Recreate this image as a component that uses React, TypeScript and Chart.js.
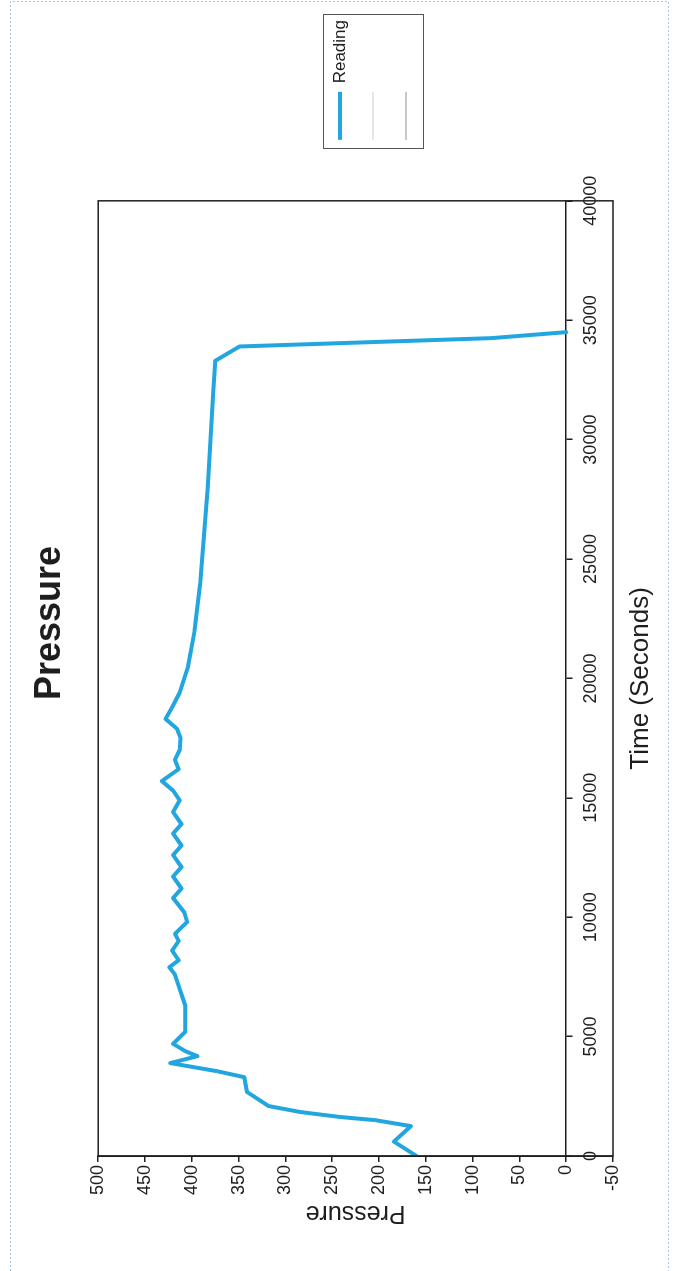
import React, { useEffect, useRef } from 'react';
import { Chart, registerables } from 'chart.js';

Chart.register(...registerables);

// ---- data ----
const timeSeconds = [
  0, 600, 1250, 1500, 1630, 1840, 2090, 2680, 3300, 3550, 3890, 4180, 4390, 4700,
  5200, 6300, 7000, 7600, 7900, 8200, 8600, 9000, 9300, 9800, 10200, 10800, 11200,
  11700, 12100, 12600, 13000, 13500, 13900, 14400, 14900, 15300, 15700, 16200, 16600,
  17000, 17500, 17900, 18300, 18800, 19400, 20500, 22000, 24000, 26000, 28000, 30000,
  32000, 33300, 33900, 34250, 34500,
];
const pressureReading = [
  160, 184, 166, 204, 241, 284, 318, 341, 344, 373, 423, 394, 407, 420,
  407, 407, 413, 418, 424, 414, 421, 414, 418, 405, 408, 420, 411,
  420, 411, 420, 411, 420, 411, 420, 413, 420, 432, 414, 418,
  413, 412, 416, 428, 421, 413, 404, 397, 391, 387, 383, 380,
  377, 375, 349, 80, 0,
];
const timeTicks = [0, 5000, 10000, 15000, 20000, 25000, 30000, 35000, 40000];
const pressureTicks = [-50, 0, 50, 100, 150, 200, 250, 300, 350, 400, 450, 500];
const seriesLabels = ['Reading', '', ''];
const seriesColors = ['#22a6e0', '#cfcfcf', '#8f8f8f'];
const seriesWidths = [4, 1, 1];
const chartTitle = 'Pressure';
const xAxisTitle = 'Time (Seconds)';
const yAxisTitle = 'Pressure';

// ---- drawing setup ----
const W = 1271;
const H = 677;
const FONT = "'Liberation Sans', Arial, Helvetica, sans-serif";
const INK = '#1e1e1e';

const framePlugin = {
  id: 'frame',
  beforeDraw(chart: any) {
    const { ctx } = chart;
    ctx.save();
    ctx.fillStyle = '#ffffff';
    ctx.fillRect(0, 0, chart.width, chart.height);
    ctx.strokeStyle = '#a9c4db';
    ctx.lineWidth = 1;
    ctx.setLineDash([2, 2]);
    ctx.beginPath();
    ctx.moveTo(0, 10.5);
    ctx.lineTo(W - 1.5, 10.5);
    ctx.lineTo(W - 1.5, 668.5);
    ctx.lineTo(0, 668.5);
    ctx.stroke();
    ctx.restore();
  },
  afterDraw(chart: any) {
    const { ctx, chartArea: a } = chart;
    ctx.save();
    ctx.strokeStyle = INK;
    ctx.lineWidth = 1.5;
    ctx.strokeRect(a.left, a.top, a.right - a.left, a.bottom - a.top);
    const lg = chart.legend;
    if (lg && lg.legendHitBoxes && lg.legendHitBoxes.length) {
      const hb = lg.legendHitBoxes;
      const first = hb[0];
      const last = hb[hb.length - 1];
      const left = Math.round(first.left - 9) + 0.5;
      const top = Math.round(first.top - 8.5) + 0.5;
      const bottom = Math.round(last.top + last.height + 8.5) + 0.5;
      ctx.strokeStyle = '#555555';
      ctx.lineWidth = 1;
      ctx.strokeRect(left, top, 134, bottom - top);
    }
    ctx.restore();
  },
};

export default function App() {
  const ref = useRef<HTMLCanvasElement>(null);

  useEffect(() => {
    document.body.style.overflow = 'hidden';
    const datasets = seriesLabels.map((label, i) => ({
      label,
      data: i === 0 ? timeSeconds.map((t, k) => ({ x: t, y: pressureReading[k] })) : [],
      borderColor: seriesColors[i],
      backgroundColor: seriesColors[i],
      borderWidth: seriesWidths[i],
      borderCapStyle: 'round' as const,
      borderJoinStyle: 'round' as const,
      pointRadius: 0,
      tension: 0,
    }));

    const chart = new Chart(ref.current as HTMLCanvasElement, {
      type: 'line',
      data: { datasets },
      plugins: [framePlugin],
      options: {
        responsive: false,
        animation: false,
        events: [],
        layout: { padding: { top: 10, left: 35, right: 10, bottom: 64 } },
        plugins: {
          title: {
            display: true,
            text: chartTitle,
            color: INK,
            font: { family: FONT, size: 36, weight: 'bold' },
            padding: { top: 18, bottom: 27 },
          },
          legend: {
            position: 'right',
            fullSize: false,
            align: 'center',
            title: { display: true, text: '', font: { family: FONT, size: 29 }, padding: 0 },
            labels: {
              usePointStyle: true,
              pointStyle: 'line',
              pointStyleWidth: 48,
              padding: 16,
              color: INK,
              font: { family: FONT, size: 17 },
            },
          },
          tooltip: { enabled: false },
        },
        scales: {
          x: {
            type: 'linear',
            min: 0,
            max: 40000,
            position: { y: 0 } as any,
            afterBuildTicks: (s: any) => {
              s.ticks = timeTicks.map((v) => ({ value: v }));
            },
            ticks: {
              color: INK,
              font: { family: FONT, size: 18 },
              padding: 8,
              maxRotation: 0,
              autoSkip: false,
              callback: (v: any) => String(v),
            },
            grid: { drawOnChartArea: false, tickLength: 6, color: INK, lineWidth: 1.5 },
            border: { color: INK, width: 1.5 },
            title: {
              display: true,
              text: xAxisTitle,
              color: INK,
              font: { family: FONT, size: 26 },
              padding: { top: 15, bottom: 0 },
            },
          },
          y: {
            type: 'linear',
            min: -50,
            max: 500,
            afterBuildTicks: (s: any) => {
              s.ticks = pressureTicks.map((v) => ({ value: v }));
            },
            ticks: {
              color: INK,
              font: { family: FONT, size: 18 },
              padding: 3,
              autoSkip: false,
              callback: (v: any) => String(v),
            },
            grid: { drawOnChartArea: false, tickLength: 6, color: INK, lineWidth: 1.5 },
            border: { color: INK, width: 1.5 },
            title: {
              display: true,
              text: yAxisTitle,
              color: INK,
              font: { family: FONT, size: 25 },
              padding: { top: 8, bottom: 0 },
            },
          },
          y2: {
            type: 'linear',
            position: 'right',
            display: true,
            grid: { display: false },
            border: { display: false },
            ticks: { display: false },
            afterFit: (s: any) => {
              s.width = 45;
            },
          },
        },
      } as any,
    });
    return () => chart.destroy();
  }, []);

  return (
    <div
      style={{
        position: 'absolute',
        left: 0,
        top: 0,
        width: W,
        height: H,
        transformOrigin: '0 0',
        transform: `translateY(${W}px) rotate(-90deg)`,
        background: '#ffffff',
      }}
    >
      <canvas ref={ref} width={W} height={H} style={{ display: 'block', width: W, height: H }} />
    </div>
  );
}
